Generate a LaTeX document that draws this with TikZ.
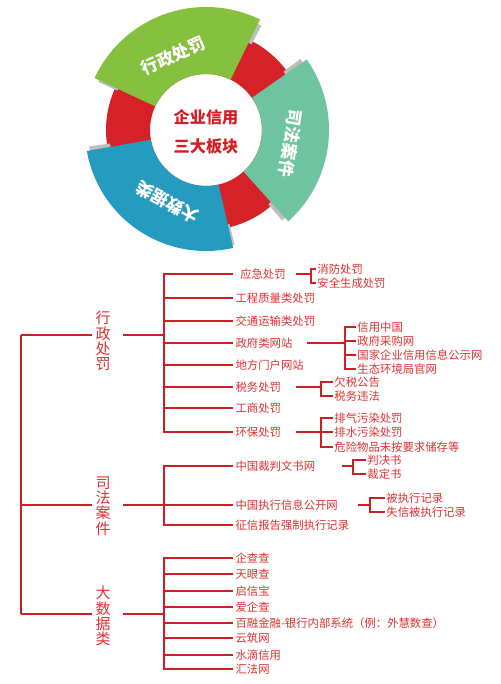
\documentclass[tikz,border=0pt]{standalone}
\usepackage{fontspec}
\usepackage{xcolor}
\usepackage{tikz}
\usetikzlibrary{positioning}
\newfontfamily\cjk{Noto Sans CJK SC}
\definecolor{ringred}{RGB}{213,33,40}
\definecolor{leafgreen}{RGB}{134,192,63}
\definecolor{tealgreen}{RGB}{110,196,160}
\definecolor{oceanblue}{RGB}{37,155,192}
\definecolor{bevelgray}{RGB}{190,190,190}
\definecolor{linered}{RGB}{205,30,38}
\definecolor{txtred}{RGB}{222,48,48}
\definecolor{hubred}{RGB}{215,28,34}

% annular sector: colour, start angle, end angle, inner radius, outer radius
\newcommand{\ringpart}[5]{%
  \fill[#1] (#2:#4) arc[start angle=#2, end angle=#3, radius=#4]
    -- (#3:#5) arc[start angle=#3, end angle=#2, radius=#5] -- cycle;}

\begin{document}
\begin{tikzpicture}[x=0.03cm, y=-0.03cm,
  trunk/.style={draw=linered, line width=1.6pt},
  twig/.style={draw=linered, line width=1.3pt},
  cat/.style={font=\cjk\fontsize{12.8}{13}\selectfont, text=txtred,
              align=center, inner sep=0pt},
  item/.style={anchor=west, inner xsep=2pt, inner ysep=0pt,
               font=\cjk\fontsize{9.7}{11}\selectfont, text=txtred},
  leaf/.style={item, inner xsep=1pt},
  band/.style={font=\cjk\bfseries\fontsize{14.5}{15}\selectfont, text=white,
               inner sep=0pt},
  hub/.style={font=\cjk\bfseries\fontsize{13.8}{24.5}\selectfont,
              text=hubred, align=center}
]
\useasboundingbox (0,0) rectangle (500,684);

% Ring of the three parts
\begin{scope}[shift={(206,130)}, yscale=-1]
  \fill[ringred, even odd rule] (0,0) circle[radius=100] (0,0) circle[radius=56];
  \ringpart{bevelgray}{62}{156}{97}{118}
  \ringpart{bevelgray}{-50}{37}{97}{118}
  \ringpart{bevelgray}{188}{284}{97}{118}
  \ringpart{leafgreen}{64}{155}{56}{123}
  \ringpart{tealgreen}{-48}{35}{56}{123}
  \ringpart{oceanblue}{190}{283}{56}{121}
  \node[band, rotate=24]  (xzband)  at (114:81) {行政处罚};
  \node[band, rotate=-99] (sfband)  at (-9:86)  {司法案件};
  \node[band, rotate=152] (dsjband) at (242:82) {大数据类};
  \node[hub] (hub) at (0,-2) {企业信用\\三大板块};
\end{scope}

% Categories
\node[cat] (xz)  at (103,341) {行\\政\\处\\罚};
\node[cat] (sf)  at (103,506) {司\\法\\案\\件};
\node[cat] (dsj) at (103,616) {大\\数\\据\\类};

% Root and bus points
\coordinate (r1) at (21,335);
\coordinate (r2) at (21,505);
\coordinate (r3) at (21,614);
\coordinate (a1) at (92,335);
\coordinate (a2) at (92,505);
\coordinate (a3) at (92,614);
\coordinate (c1) at (123,335);
\coordinate (c2) at (123,505);
\coordinate (c3) at (123,614);
\coordinate (b1) at (164,335);
\coordinate (b2) at (164,505);
\coordinate (b3) at (164,614);

\draw[trunk] (r1) -- (r3);
\draw[trunk] (r1) -- (a1);
\draw[trunk] (r2) -- (a2);
\draw[trunk] (r3) -- (a3);
\draw[trunk] (c1) -- (b1);
\draw[trunk] (c2) -- (b2);
\draw[trunk] (c3) -- (b3);

% Items of the first category
\node[item] (i11) at (233,274) {\hspace{4pt}应急处罚};
\node[item] (i12) at (233,298) {工程质量类处罚};
\node[item] (i13) at (233,321) {交通运输类处罚};
\node[item] (i14) at (233,343) {政府类网站};
\node[item] (i15) at (233,365) {地方门户网站};
\node[item] (i16) at (233,387) {税务处罚};
\node[item] (i17) at (233,408) {工商处罚};
\node[item] (i18) at (233,432) {环保处罚};

\draw[trunk] (b1) |- (i11.west);
\draw[trunk] (b1) |- (i12.west);
\draw[trunk] (b1) |- (i13.west);
\draw[trunk] (b1) |- (i14.west);
\draw[trunk] (b1) |- (i15.west);
\draw[trunk] (b1) |- (i16.west);
\draw[trunk] (b1) |- (i17.west);
\draw[trunk] (b1) |- (i18.west);

% Items of the second category
\node[item] (i21) at (233,466) {中国裁判文书网};
\node[item] (i22) at (233,505) {中国执行信息公开网};
\node[item] (i23) at (233,525) {征信报告强制执行记录};

\draw[trunk] (b2) |- (i21.west);
\draw[trunk] (b2) |- (i22.west);
\draw[trunk] (b2) |- (i23.west);

% Items of the third category
\node[item] (i31) at (233,558) {企查查};
\node[item] (i32) at (233,574) {天眼查};
\node[item] (i33) at (233,591) {启信宝};
\node[item] (i34) at (233,607) {爱企查};
\node[item] (i35) at (233,623) {百融金融-银行内部系统（例：外慧数查）};
\node[item] (i36) at (233,638) {云筑网};
\node[item] (i37) at (233,655) {水滴信用};
\node[item] (i38) at (233,669) {汇法网};

\draw[trunk] (b3) |- (i31.west);
\draw[trunk] (b3) |- (i32.west);
\draw[trunk] (b3) |- (i33.west);
\draw[trunk] (b3) |- (i34.west);
\draw[trunk] (b3) |- (i35.west);
\draw[trunk] (b3) |- (i36.west);
\draw[trunk] (b3) |- (i37.west);
\draw[trunk] (b3) |- (i38.west);

% Sub items
\node[leaf] (s111) at (316,269) {消防处罚};
\node[leaf] (s112) at (316,283) {安全生成处罚};
\coordinate (i11a) at (296,274);
\coordinate (i11b) at (311,274);
\draw[twig] (i11a) -- (i11b);
\draw[twig] (i11b) |- (s111.west);
\draw[twig] (i11b) |- (s112.west);

\node[leaf] (s141) at (356,327) {信用中国};
\node[leaf] (s142) at (356,341) {政府采购网};
\node[leaf] (s143) at (356,355) {国家企业信用信息公示网};
\node[leaf] (s144) at (356,369) {生态环境局官网};
\coordinate (i14a) at (307,343);
\coordinate (i14b) at (345,343);
\draw[twig] (i14a) -- (i14b);
\draw[twig] (i14b) |- (s141.west);
\draw[twig] (i14b) |- (s142.west);
\draw[twig] (i14b) |- (s143.west);
\draw[twig] (i14b) |- (s144.west);

\node[leaf] (s161) at (333,382) {欠税公告};
\node[leaf] (s162) at (333,396) {税务违法};
\coordinate (i16a) at (296,387);
\coordinate (i16b) at (321,387);
\draw[twig] (i16a) -- (i16b);
\draw[twig] (i16b) |- (s161.west);
\draw[twig] (i16b) |- (s162.west);

\node[leaf] (s181) at (333,418) {排气污染处罚};
\node[leaf] (s182) at (333,432) {排水污染处罚};
\node[leaf] (s183) at (333,447) {危险物品未按要求储存等};
\coordinate (i18a) at (296,432);
\coordinate (i18b) at (321,432);
\draw[twig] (i18a) -- (i18b);
\draw[twig] (i18b) |- (s181.west);
\draw[twig] (i18b) |- (s182.west);
\draw[twig] (i18b) |- (s183.west);

\node[leaf] (s211) at (366,460) {判决书};
\node[leaf] (s212) at (366,474) {裁定书};
\coordinate (i21a) at (342,466);
\coordinate (i21b) at (353,466);
\draw[twig] (i21a) -- (i21b);
\draw[twig] (i21b) |- (s211.west);
\draw[twig] (i21b) |- (s212.west);

\node[leaf] (s221) at (385,498) {被执行记录};
\node[leaf] (s222) at (385,512) {失信被执行记录};
\coordinate (i22a) at (358,505);
\coordinate (i22b) at (370,505);
\draw[twig] (i22a) -- (i22b);
\draw[twig] (i22b) |- (s221.west);
\draw[twig] (i22b) |- (s222.west);

\end{tikzpicture}
\end{document}
